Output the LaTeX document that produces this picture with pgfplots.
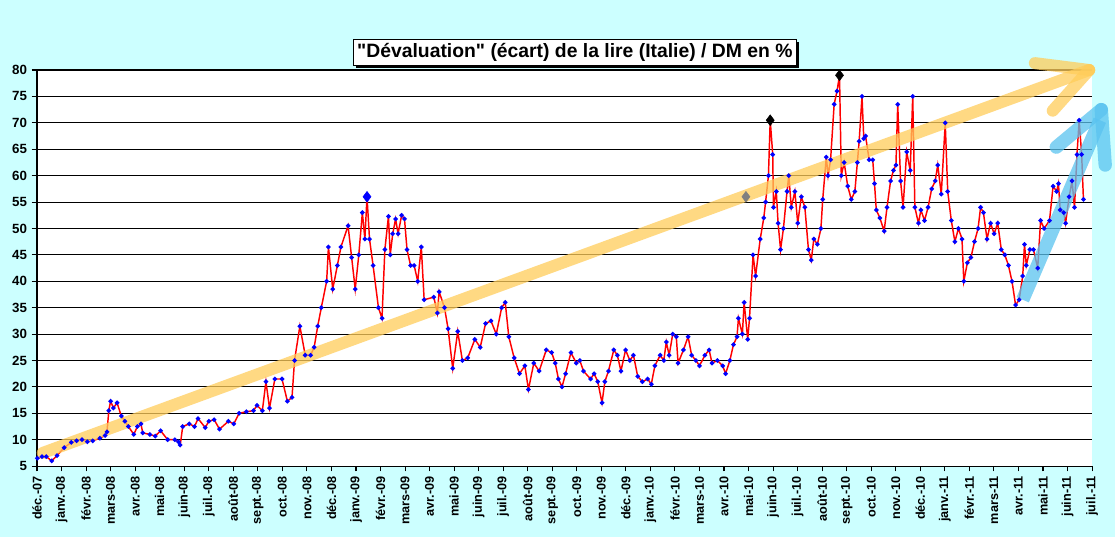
\documentclass[border=0pt]{standalone}
\usepackage{pgfplots}
\pgfplotsset{compat=1.18}
\usepackage{fontspec}
\setmainfont{Liberation Sans}
\newfontfamily\titlefont{Liberation Sans}[Ligatures=ResetAll]
\usetikzlibrary{calc,shadows}
\pgfdeclarelayer{background}
\pgfsetlayers{background,main}
\definecolor{bgc}{RGB}{204,255,255}
\definecolor{orarrow}{RGB}{255,205,90}
\definecolor{blarrow}{RGB}{90,195,240}
\begin{document}
\begin{tikzpicture}
\begin{axis}[name=ax, scale only axis, width=791pt, height=297pt,
 xmin=104, xmax=3058, ymin=5, ymax=80,
 xtick={104,172.7,...,3059},
 xticklabels={déc.-07,janv.-08,févr.-08,mars-08,avr.-08,mai-08,juin-08,juil.-08,août-08,sept.-08,oct.-08,nov.-08,déc.-08,janv.-09,févr.-09,mars-09,avr.-09,mai-09,juin-09,juil.-09,août-09,sept.-09,oct.-09,nov.-09,déc.-09,janv.-10,févr.-10,mars-10,avr.-10,mai-10,juin-10,juil.-10,août-10,sept.-10,oct.-10,nov.-10,déc.-10,janv.-11,févr.-11,mars-11,avr.-11,mai-11,juin-11,juil.-11},
 xticklabel style={rotate=90, anchor=east, font=\bfseries\fontsize{9.5}{10}\selectfont},
 ytick={5,10,...,80},
 yticklabel style={font=\bfseries\fontsize{10}{11}\selectfont},
 /pgf/number format/assume math mode=true,
 ymajorgrids, major grid style={black, line width=0.8pt},
 tick align=outside, major tick length=4pt, tick style={black, line width=0.8pt},
 axis line style={black, line width=0.8pt},
 axis x line*=bottom, axis y line*=left,
 axis background/.style={fill=white},
 clip=false]
\addplot[red, line width=1.1pt, mark=*, mark size=1.1pt, mark options={blue, draw=blue, fill=blue}] coordinates {
(105,6.5)(118,6.8)(130,6.8)(145,6.0)(160,7)(180,8.5)(200,9.5)(215,9.8)(230,10)(245,9.6)(260,9.8)(280,10.3)(295,10.8)(300,11.5)(305,15.5)(310,17.3)(318,16)(328,17)(340,14.5)(350,13.5)(360,12.5)(375,11)(385,12.5)(395,13)(400,11.3)(420,11)(435,10.7)(450,11.7)(470,10)(490,10)(500,9.6)(505,9)(512,12.5)(530,13)(545,12.5)(555,14)(575,12.3)(585,13.5)(600,13.8)(615,12)(640,13.5)(655,13)(670,15)(690,15.3)(710,15.5)(720,16.5)(735,15.5)(745,21)(755,16)(770,21.5)(790,21.5)(805,17.3)(818,18)(825,25)(840,31.5)(855,26)(870,26)(880,27.5)(890,31.5)(900,35)(915,40)(920,46.5)(932,38.5)(945,43)(955,46.5)(975,50.5)(985,44.5)(995,38.5)(1005,45)(1015,53)(1022,48)(1028,56)(1035,48)(1045,43)(1060,35)(1070,33)(1078,46)(1088,52.3)(1093,45)(1100,49)(1108,51.8)(1115,49)(1125,52.5)(1133,51.8)(1140,46)(1150,43)(1160,43)(1170,40)(1180,46.5)(1188,36.5)(1215,37)(1225,34)(1230,38)(1245,35)(1255,31)(1268,23.5)(1282,30.5)(1295,25)(1310,25.5)(1330,29)(1345,27.5)(1360,32)(1375,32.5)(1390,30)(1405,35)(1415,36)(1425,29.5)(1440,25.5)(1455,22.5)(1470,24)(1480,19.5)(1495,24.5)(1510,23)(1530,27)(1545,26.5)(1555,24.5)
(1564,21.5)(1574,20)(1584,22.5)(1599,26.5)(1614,24.5)(1624,25)(1634,23)(1654,21.5)(1664,22.5)(1674,21)(1686,17)(1694,21)(1704,23)(1719,27)(1729,26)(1739,23)(1752,27)(1764,25)(1774,26)(1786,22)(1799,21)(1814,21.5)(1824,20.5)(1834,24)(1849,26)(1859,25)(1866,28.5)(1874,26)(1884,30)(1894,29.5)(1899,24.5)(1914,27)(1927,29.5)(1937,26)(1949,25)(1959,24)(1974,26)(1986,27)(1994,24.5)(2009,25)(2024,24)(2032,22.5)(2044,25)(2054,28)(2064,29.5)(2068,33)(2079,30)(2084,36)(2094,29)(2099,33)(2109,45)(2116,41)(2129,48)(2139,52)(2144,55)(2152,60)(2157,70.5)(2164,64)(2166,54)(2174,57)(2179,51)(2186,46)(2194,50)(2204,57)(2209,60)(2216,54)(2226,57)(2234,51)(2244,56)(2254,54)(2264,46)(2272,44)(2279,48)(2289,47)(2299,50)(2304,55.5)(2314,63.5)(2319,60)(2326,63)(2336,73.5)(2344,76)(2351,79)(2356,60)(2364,62.5)(2374,58)(2384,55.5)(2394,57)(2401,62.5)(2406,66.5)(2414,75)(2419,67)(2424,67.5)(2434,63)(2444,63)(2449,58.5)(2454,53.5)(2464,52)(2476,49.5)(2484,54)(2494,59)(2502,61)(2509,62)(2514,73.5)(2522,59)(2529,54)(2539,64.5)(2549,61)(2556,75)(2562,54)(2572,51)(2579,53.5)(2589,51.5)(2599,54)(2609,57.5)(2619,59)(2626,62)(2636,56.5)(2647,70)(2654,57)(2664,51.5)(2674,47.5)(2684,50)(2694,48)(2699,40)(2709,43.5)(2719,44.5)(2729,47.5)(2739,50)(2746,54)(2754,53)(2764,48)(2774,51)(2784,49)(2794,51)(2804,46)(2814,45)(2824,43)(2834,40)(2844,35.5)(2854,36.5)(2864,41)(2869,47)(2874,43)(2884,46)(2894,46)(2906,42.5)(2914,51.5)(2924,50)(2939,51.5)(2949,58)(2959,57)(2964,58.5)(2969,53.5)(2979,53)(2984,51)(2994,56)(3002,59)(3009,54)(3016,64)(3022,70.5)(3029,64)(3034,55.5)};
\addplot[only marks, mark=diamond*, mark size=4pt, blue] coordinates {(1028,56)};
\addplot[only marks, mark=diamond*, mark size=4pt, black] coordinates {(2157,70.5)(2351,79)};
\addplot[only marks, mark=diamond*, mark size=4pt, gray] coordinates {(2089,56)};
% arrows
\draw[orarrow, opacity=0.75, line width=9pt, line cap=round] (axis cs:120,7.5) -- (axis cs:3050,80);
\draw[orarrow, opacity=0.75, line width=9pt, line cap=round] (axis cs:3050,80) -- (axis cs:2898,81.3);
\draw[orarrow, opacity=0.75, line width=9pt, line cap=round] (axis cs:3050,80) -- (axis cs:2948,72.3);
\draw[blarrow, opacity=0.75, line width=10pt, line cap=butt] (axis cs:2864,36.5) -- (axis cs:3080,70.5);
\draw[blarrow, opacity=0.75, line width=10pt, line cap=round] (axis cs:3084,72.5) -- (axis cs:2958,65.4);
\draw[blarrow, opacity=0.75, line width=10pt, line cap=round] (axis cs:3084,72.5) -- (axis cs:3095,62);
\node[draw=black, fill=white, line width=0.8pt, drop shadow={shadow xshift=2pt, shadow yshift=-2pt, opacity=1, fill=black}, inner sep=3pt, font=\titlefont\bfseries\fontsize{14.5}{16}\selectfont] at (axis cs:1610,83.3) {"Dévaluation" (écart) de la lire (Italie) / DM en \%};
\end{axis}
\begin{pgfonlayer}{background}
\fill[bgc] ($(ax.south west)+(-27.75pt,-53.25pt)$) rectangle ($(ax.north east)+(17.25pt,52.5pt)$);
\end{pgfonlayer}
\end{tikzpicture}
\end{document}
